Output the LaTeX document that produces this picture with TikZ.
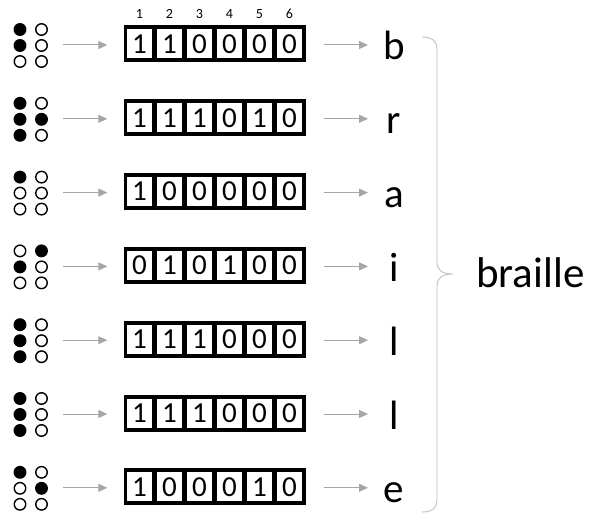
\documentclass[tikz,border=0pt]{standalone}
\usepackage{fontspec}
\setmainfont{Carlito}
\usetikzlibrary{arrows.meta}
\definecolor{arrowgray}{HTML}{A6A6A6}
\definecolor{bracegray}{HTML}{BFBFBF}
\begin{document}
\begin{tikzpicture}[x=1pt,y=-1pt,
  arr/.style={draw=arrowgray, line width=1pt, -{Triangle[length=9pt,width=8pt]}},
  outerbox/.style={fill=black, draw=none, minimum width=182pt, minimum height=37pt, inner sep=0pt},
  cellbox/.style={fill=white, draw=none, minimum width=25pt, minimum height=29pt, inner sep=0pt,
    font=\fontsize{29}{29}\selectfont},
  dotgrp/.style={minimum width=26pt, minimum height=40pt, inner sep=0pt},
  fulldot/.style={circle, fill=black, draw=black, line width=1.4pt, minimum size=11.5pt, inner sep=0pt},
  emptydot/.style={circle, fill=white, draw=black, line width=1.4pt, minimum size=11.5pt, inner sep=0pt},
  letter/.style={anchor=base, inner sep=0pt, font=\fontsize{41}{41}\selectfont},
  colnum/.style={inner sep=0pt, font=\fontsize{14}{14}\selectfont}]
\useasboundingbox (0,0) rectangle (593,529);
% column numbers
\foreach \k in {1,...,6}
  \node[colnum] (num\k) at ({139.5+30*(\k-1)},14) {\k};
% rows
\foreach \rr/\bitlist/\ltr in {
  0/{1,1,0,0,0,0}/b,
  1/{1,1,1,0,1,0}/r,
  2/{1,0,0,0,0,0}/a,
  3/{0,1,0,1,0,0}/i,
  4/{1,1,1,0,0,0}/l,
  5/{1,1,1,0,0,0}/l,
  6/{1,0,0,0,1,0}/e}{
  \pgfmathsetmacro{\yc}{44+73.8*\rr}
  % braille dots
  \node[dotgrp] (grp\rr) at (31,\yc+1) {};
  \foreach \dd [count=\k] in \bitlist {
    \pgfmathsetmacro{\dx}{\k<4 ? 20 : 41.5}
    \pgfmathsetmacro{\dy}{\yc+1.5+16*(mod(\k-1,3)-1)}
    \ifnum\dd=1
      \node[fulldot] (dot\rr-\k) at (\dx,\dy) {};
    \else
      \node[emptydot] (dot\rr-\k) at (\dx,\dy) {};
    \fi
  }
  % bit box
  \node[outerbox] (box\rr) at (214.5,\yc) {};
  \foreach \bb [count=\k] in \bitlist
    \node[cellbox] (cell\rr-\k) at ({139.5+30*(\k-1)},\yc) {\bb};
  % letter
  \node[letter] (let\rr) at (394,\yc+16) {\ltr};
  \coordinate (tip\rr) at (368,\yc+1);
  % arrows
  \draw[arr, shorten <=19pt, shorten >=16pt] (grp\rr.east) -- (box\rr.west |- grp\rr.east);
  \draw[arr, shorten <=18pt] (box\rr.east |- tip\rr) -- (tip\rr);
}
% brace
\draw[bracegray, line width=0.9pt]
  (422,37) .. controls (431,37) and (437,40) .. (437,50)
  -- (437,262) .. controls (437,270) and (442,274) .. (453,274)
  .. controls (442,274) and (437,278) .. (437,286)
  -- (437,499) .. controls (437,509) and (431,512) .. (422,512);
\node[anchor=base west, inner sep=0pt, font=\fontsize{43}{43}\selectfont] (word) at (476,287) {braille};
\end{tikzpicture}
\end{document}
